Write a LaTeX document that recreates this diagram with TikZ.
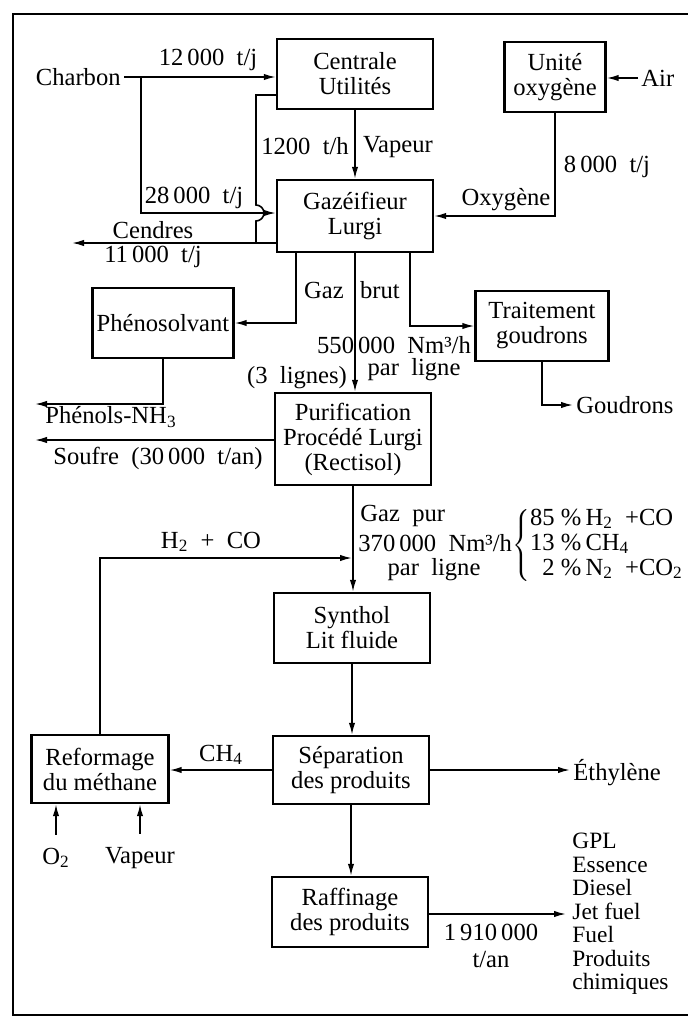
\documentclass[tikz,border=0pt]{standalone}
\usepackage{fontspec}
\setmainfont{Liberation Serif}
\usetikzlibrary{arrows.meta}

\begin{document}
\begin{tikzpicture}[x=0.5pt, y=-0.5pt,
    every node/.style={font=\fontsize{12.3}{12.5}\selectfont, inner sep=1.5pt},
    unit/.style={draw, line width=1.2pt, align=center, inner sep=0pt,
                 minimum width=78pt, minimum height=35pt},
    flow/.style={line width=0.8pt, -{Latex[length=6pt,width=3.2pt]}},
    pipe/.style={line width=0.8pt},
    frame/.style={line width=1.4pt}]
    \clip (0,0) rectangle (688,1018);
    \draw[frame] (13,14) rectangle (720,1015);

    \path (355,  74) node [unit] (centrale) {Centrale\\Utilités};
    \path (555,  77) node [unit,minimum width=50.5pt] (unite) {Unité\\oxygène};
    \path (355, 216) node [unit,minimum height=36pt] (gaz) {Gazéifieur\\Lurgi};
    \path (163, 323) node [unit,minimum width=70.5pt] (pheno) {Phénosolvant};
    \path (542, 326) node [unit,minimum width=66.5pt] (trait) {Traitement\\goudrons};
    \path (353, 439) node [unit,minimum height=46pt] (purif) {Purification\\Procédé Lurgi\\(Rectisol)};
    \path (352, 628) node [unit] (synthol) {Synthol\\Lit fluide};
    \path (351, 770) node [unit,minimum height=34pt] (separ) {Séparation\\des produits};
    \path (100, 769) node [unit,minimum width=68.5pt,minimum height=34pt] (reform) {Reformage\\du méthane};
    \path (350, 912) node [unit] (raff) {Raffinage\\des produits};

    \path (124,  77) node [anchor=east] (charbon) {Charbon};
    \path (208,  60) node (t12000) {12\,000\ \ t/j};
    \path (305, 146) node (t1200) {1200\ \ t/h};
    \path (398, 147) node (vapeur) {Vapeur};
    \path (194, 198) node (t28000) {28\,000\ \ t/j};
    \path (153, 230) node (cendres) {Cendres};
    \path (153, 257) node (t11000) {11\,000\ \ t/j};
    \path (607, 167) node (t8000) {8\,000\ \ t/j};
    \path (506, 200) node (oxygene) {Oxygène};
    \path (638,  78) node [anchor=west] (air) {Air};
    \path (324, 290) node (gazlbl) {Gaz};
    \path (380, 290) node (brut) {brut};
    \path (394, 345) node (q550) {550\,000\ \ Nm³/h};
    \path (414, 370) node (parligne) {par\ \ ligne};
    \path (297, 378) node (lignes) {(3\ \ lignes)};
    \path (111, 417) node (phenols) {Phénols-NH\textsubscript{3}};
    \path (158, 458) node (soufre) {Soufre\ \ (30\,000\ \ t/an)};
    \path (573, 405) node [anchor=west] (goudrons) {Goudrons};
    \path (357, 516) node [anchor=west] (gazpur) {Gaz\ \ pur};
    \path (355, 543) node [anchor=west] (q370) {370\,000\ \ Nm³/h};
    \path (434, 570) node (parligne2) {par\ \ ligne};
    \path (512, 545) node [anchor=west,inner sep=0pt] (compo)
        {$\left\{\mbox{\begin{tabular}{@{}r@{\,}l@{}}
        85 \% & H\textsubscript{2} \ +CO\\
        13 \% & CH\textsubscript{4}\\
        2 \% & N\textsubscript{2} \ +CO\textsubscript{2}
        \end{tabular}}\right.$};
    \path (211, 542) node (h2co) {H\textsubscript{2}\ \ +\ \ CO};
    \path (221, 755) node (ch4) {CH\textsubscript{4}};
    \path (570, 773) node [anchor=west] (ethyl) {Éthylène};
    \path ( 56, 858) node (o2) {O\textsubscript{2}};
    \path (140, 858) node (vap2) {Vapeur};
    \path (491, 946) node [align=center] (t1910) {1\,910\,000\\[1pt]t/an};
    \path (572, 833) node [anchor=north west,align=left,inner sep=0pt,
        font=\fontsize{11.7}{11.75}\selectfont] (produits)
        {GPL\\Essence\\Diesel\\Jet fuel\\Fuel\\Produits\\chimiques};

    \coordinate (split)  at (141,  77);
    \coordinate (ashtop) at (256,  95);
    \coordinate (ashend) at ( 72, 243);
    \coordinate (gp)     at (296, 322);
    \coordinate (gt)     at (410, 324);
    \coordinate (phenend) at (35, 404);
    \coordinate (soufend) at (35, 440);
    \coordinate (h2in)   at (352, 558);
    \coordinate (raffend) at (566, 914);

    \draw[flow] (charbon.east) -- (charbon.east -| centrale.west);
    \draw[flow] (split) |- ([yshift=1.5pt]gaz.west);
    \draw[pipe] (centrale.west |- ashtop) -- (ashtop) -- (256,205)
        arc[start angle=90, end angle=-90, radius=4pt] -- (256,243);
    \draw[flow] (gaz.west |- ashend) -- (ashend);
    \draw[flow] (centrale.south) -- (centrale.south |- gaz.north);
    \draw[flow] (air.west) -- (air.west -| unite.east);
    \draw[flow] (unite.south) |- (gaz.east);
    \draw[flow] (gaz.south -| gp) |- (pheno.east);
    \draw[flow] (gaz.south -| gt) |- (trait.west);
    \draw[flow] (gaz.south) -- (gaz.south |- purif.north);
    \draw[flow] (pheno.south) |- (phenend);
    \draw[flow] (purif.west |- soufend) -- (soufend);
    \draw[flow] (trait.south) |- (goudrons.west);
    \draw[flow] (purif.south) -- (purif.south |- synthol.north);
    \draw[flow] (reform.north) |- (h2in);
    \draw[flow] (synthol.south) -- (synthol.south |- separ.north);
    \draw[flow] (separ.west) -- (separ.west -| reform.east);
    \draw[flow] (separ.east) -- (separ.east -| ethyl.west);
    \draw[flow] ([yshift=5pt]o2.north) -- (o2.north |- reform.south);
    \draw[flow] ([yshift=5pt]vap2.north) -- (vap2.north |- reform.south);
    \draw[flow] (separ.south) -- (separ.south |- raff.north);
    \draw[flow] (raff.east |- raffend) -- (raffend);
\end{tikzpicture}
\end{document}
